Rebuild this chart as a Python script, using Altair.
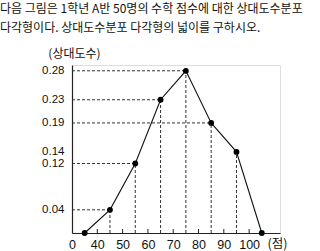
import altair as alt
import pandas as pd

scores = [35, 45, 55, 65, 75, 85, 95, 105]
rel_freq = [0, 0.04, 0.12, 0.23, 0.28, 0.19, 0.14, 0]
x_ticks = [30, 40, 50, 60, 70, 80, 90, 100]
y_ticks = [0.04, 0.12, 0.14, 0.19, 0.23, 0.28]
# horizontal dashed guide lines (value, to score)
h_vals = [0.04, 0.12, 0.23, 0.28, 0.19]
h_scores = [45, 55, 65, 75, 85]
# vertical dashed guide lines
v_scores = [45, 55, 65, 75, 85, 95]
v_vals = [0.04, 0.12, 0.23, 0.28, 0.19, 0.14]

df = pd.DataFrame({"score": scores, "rf": rel_freq})
hdf = pd.DataFrame({"x0": [30] * len(h_vals), "score": h_scores, "rf": h_vals})
vdf = pd.DataFrame({"score": v_scores, "rf": v_vals, "zero": [0] * len(v_vals)})
tdf = pd.DataFrame({"score": x_ticks[1:]})

FONT = "Liberation Sans"
xs = alt.Scale(domain=[30, 112.2], nice=False, zero=False)
ys = alt.Scale(domain=[0, 0.29], nice=False)

xaxis = alt.Axis(
    values=x_ticks, labelExpr="datum.value == 30 ? '0' : datum.label",
    ticks=False, grid=False, domainColor="#222", domainWidth=1.2,
    labelFont=FONT, labelFontSize=12.5, labelColor="#111", labelPadding=5,
    labelFlush=False, labelOverlap=False,
    title="(점)", titleFont="Noto Sans CJK KR", titleFontSize=12.5,
    titleFontWeight="normal", titleColor="#111", titleX=205, titleY=10,
    titleBaseline="middle", titleAlign="center")
yaxis = alt.Axis(
    values=y_ticks, format=".2f", ticks=False, grid=False,
    domainColor="#222", domainWidth=1.2, labelOverlap=False,
    labelFont=FONT, labelFontSize=11.5, labelColor="#111", labelPadding=8,
    title="(상대도수)", titleAngle=0, titleX=2, titleY=-12,
    titleAlign="center", titleBaseline="middle",
    titleFont="Noto Sans CJK KR", titleFontSize=12, titleFontWeight="normal",
    titleColor="#111")

hrules = alt.Chart(hdf).mark_rule(color="#333", strokeDash=[3, 2], strokeWidth=1).encode(
    x=alt.X("x0:Q", scale=xs, axis=xaxis), x2="score:Q",
    y=alt.Y("rf:Q", scale=ys, axis=yaxis))
vrules = alt.Chart(vdf).mark_rule(color="#333", strokeDash=[3, 2], strokeWidth=1).encode(
    x=alt.X("score:Q", scale=xs, axis=xaxis),
    y=alt.Y("zero:Q", scale=ys, axis=yaxis), y2="rf:Q")
line = alt.Chart(df).mark_line(color="#111", strokeWidth=1.1).encode(
    x=alt.X("score:Q", scale=xs, axis=xaxis), y=alt.Y("rf:Q", scale=ys, axis=yaxis))
pts = alt.Chart(df).mark_circle(color="#000", size=34, opacity=1).encode(
    x=alt.X("score:Q", scale=xs, axis=xaxis), y=alt.Y("rf:Q", scale=ys, axis=yaxis))
ticks = alt.Chart(tdf).mark_rule(color="#222", strokeWidth=1).encode(
    x=alt.X("score:Q", scale=xs, axis=xaxis), y=alt.value(168), y2=alt.value(164))

chart = alt.layer(hrules, vrules, line, ticks, pts).properties(
    width=208, height=168,
    autosize=alt.AutoSizeParams(type="none"),
    padding={"left": 72, "top": 65, "right": 40, "bottom": 18},
    title=alt.TitleParams(
        text=["다음 그림은 1학년 A반 50명의 수학 점수에 대한 상대도수분포",
              "다각형이다. 상대도수분포 다각형의 넓이를 구하시오."],
        anchor="start", frame="group", dx=-72, offset=12,
        font="Noto Sans CJK KR", fontSize=12, fontWeight="normal",
        color="#111", lineHeight=19, baseline="top"),
).configure_view(stroke=None).configure(background="white").configure_axis(
    labelOverlap=False)

chart.save("out.html", embed_options={"renderer": "svg", "actions": False})
